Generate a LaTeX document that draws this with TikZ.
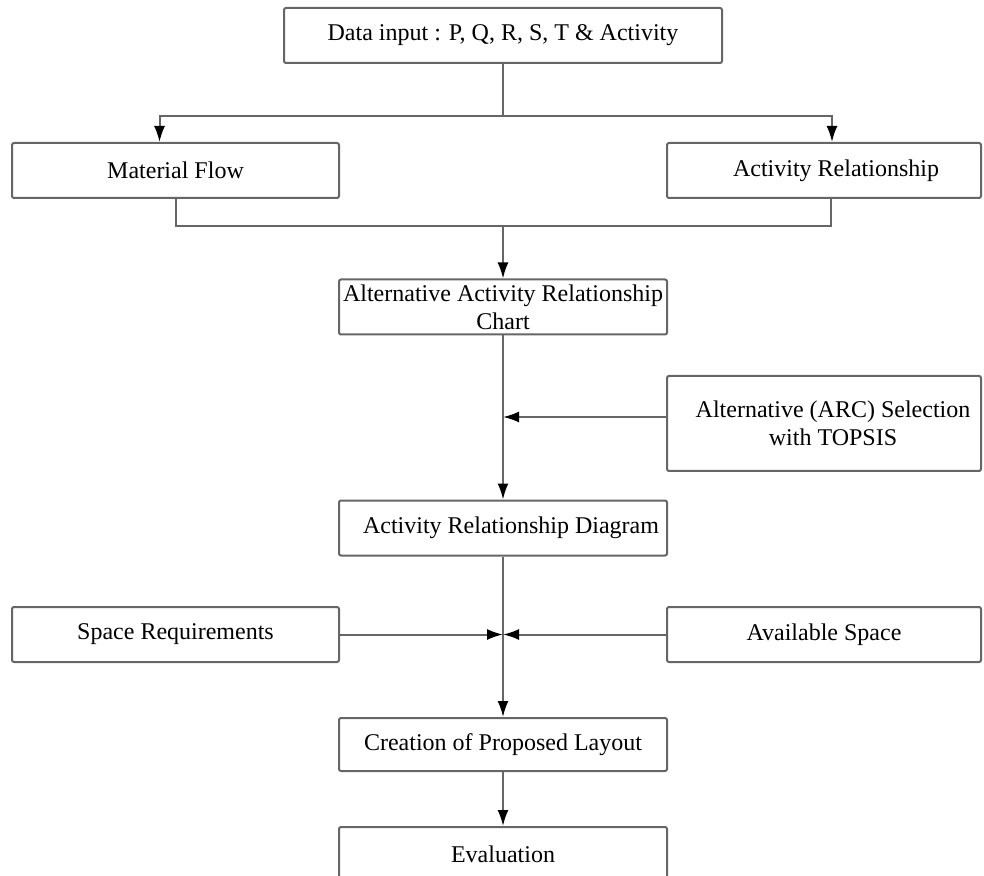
\documentclass[tikz,border=0pt]{standalone}
\usepackage{fontspec}
\setmainfont{Liberation Serif}
\usepackage{tikz}
\usetikzlibrary{arrows.meta,positioning,calc}

\begin{document}
\begin{tikzpicture}[
    x=0.5pt, y=-0.5pt,
    node distance=82pt,
    box/.style={rectangle, draw=black!60, line width=1pt, rounded corners=1pt, align=center, inner sep=0pt, font=\fontsize{12}{13.8}\selectfont},
    midbox/.style={box, minimum width=164pt, minimum height=27.5pt},
    sidebox/.style={box, minimum width=163.5pt, minimum height=27.5pt},
    rightbox/.style={box, minimum width=157pt, minimum height=27.5pt},
    line/.style={draw=black!60, line width=1pt},
    arrow/.style={line, -{Latex[length=8pt, width=5.5pt, color=black]}}
]
    \clip (0,0) rectangle (984,876);

    % Input
    \node[box, minimum width=219pt, minimum height=27.5pt] (data) at (503,35.5) {Data input : P, Q, R, S, T \& Activity};

    % Flow and relationship
    \node[sidebox] (mf) at (175.5,170.5) {Material Flow};
    \node[rightbox] (ar) at (824,170.5) {\hspace{12pt}Activity Relationship};

    % Central column
    \node[midbox] (arc) at (503,307) {Alternative Activity Relationship\\Chart};
    \node[rightbox, minimum height=47.5pt] (topsis) at (824,423.5) {\hspace{9pt}Alternative (ARC) Selection\\\hspace{9pt}with TOPSIS};
    \node[midbox, below=of arc] (ard) {\hspace{8pt}Activity Relationship Diagram};

    % Space
    \node[sidebox] (space) at (175.5,634.5) {Space Requirements};
    \node[rightbox] (avail) at (824,634.5) {Available Space};

    % Layout
    \node[midbox, minimum height=26.5pt] (create) at (503,744.5) {Creation of Proposed Layout};
    \node[midbox, below=27pt of create] (eval) {Evaluation};

    % Arrows
    \coordinate (split) at (503,116);
    \coordinate (merge) at (503,226);
    \draw[line] (data) -- (split);
    \draw[arrow] (split) -| ([xshift=-8pt]mf.north);
    \draw[arrow] (split) -| ([xshift=4pt]ar.north);
    \draw[line] (mf.south) |- (merge) -| ([xshift=3.5pt]ar.south);
    \draw[arrow] (merge) -- (arc.north);
    \draw[arrow] (arc) -- (ard);
    \draw[arrow] ([yshift=3.25pt]topsis.west) -- ([yshift=3.25pt]topsis.west -| arc.south);
    \draw[arrow] (ard) -- (create);
    \draw[arrow] (space.east) -- (space.east -| ard.south);
    \draw[arrow] (avail.west) -- (avail.west -| ard.south);
    \draw[arrow] (create) -- (eval);
\end{tikzpicture}
\end{document}
